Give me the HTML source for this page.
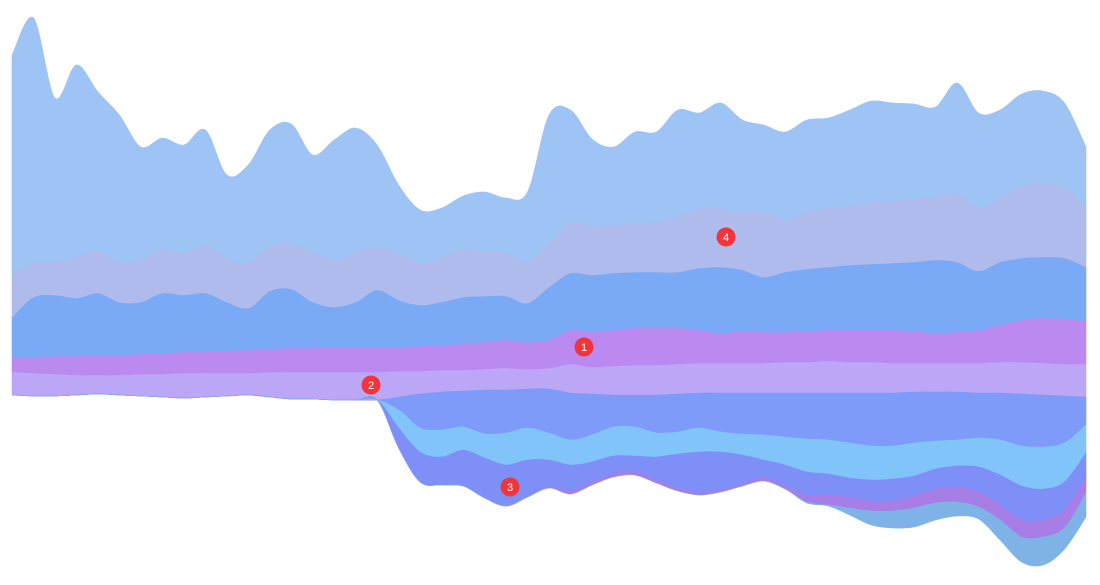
<!DOCTYPE html>
<html><head><meta charset="utf-8"><style>
html,body{margin:0;padding:0;background:#fff;}
svg{display:block;}
</style></head>
<body>
<svg id="chart" width="1100" height="585" viewBox="0 0 1100 585" xmlns="http://www.w3.org/2000/svg">
<g id="layers"></g>
<g id="badges"></g>
</svg>
<script>
// x categories (index of sample)
const categories = Array.from({length:51},(_, i) => i);
// baseline offset (center line shift)
const baseline = [0,-1,-1,0,1,0,-1,-2,-3,-2,-1,0,-2,-4,-4,-5,-5,-5,-2,1,3,4,5,5,6,6,2,1,0,0,0,1,2,2,2,2,2,2,2,2,2,2,3,3,3,2,2,1,0,-1,-2];
// upper series (stacked upward, bottom first)
const series2 = [23,23,22,20,19,20,22,23,25,24,23,22,25,27,27,28,28,28,26,23,22,21,21,22,20,21,29,27,29,30,30,30,30,30,30,30,31,31,32,31,31,30,29,29,29,30,31,32,32,32,33];
const series1 = [15,16,18,19,20,20,20,21,21,21,22,23,23,24,24,25,25,25,24,25,25,26,27,28,27,28,34,35,36,37,37,36,33,30,32,31,30,31,31,32,32,33,32,30,31,33,37,42,45,45,43];
const seriesC = [40,60,61,58,62,53,52,60,57,59,49,42,58,59,46,40,45,57,47,41,43,47,46,44,39,53,57,57,57,56,56,56,62,66,61,55,60,62,63,65,66,67,69,73,70,59,63,62,61,61,54];
const series4 = [42,34,33,41,42,40,42,44,42,47,44,45,45,46,50,47,50,43,47,42,44,48,45,43,41,45,50,50,48,49,50,55,60,59,58,65,52,57,59,59,62,62,63,63,69,63,65,71,74,70,60];
const seriesA = [220,245,164,192,159,147,113,111,108,116,83,98,116,119,97,120,124,102,68,53,50,53,59,55,70,127,113,86,78,91,90,107,95,105,92,87,88,92,90,96,101,98,95,90,110,95,87,93,92,85,60];
// lower series (stacked downward, top first)
const seriesF = [0,0,0,0,0,0,0,0,0,0,0,0,0,0,0,0,0,0,13,34,38,36,44,43,39,44,47,41,32,32,38,38,35,39,41,42,44,46,47,50,53,53,51,49,48,45,47,52,52,47,28];
const seriesG = [0,0,0,0,0,0,0,0,0,0,0,0,0,0,0,0,0,0,18,24,27,23,24,32,32,27,25,27,29,29,24,22,24,20,21,25,28,33,34,35,34,33,33,28,26,29,35,40,42,39,28];
const series3 = [0,0,0,0,0,0,0,0,0,0,0,0,0,0,0,0,0,0,20,30,28,36,40,41,37,27,26,20,18,16,23,34,41,38,29,18,21,24,21,20,21,22,20,20,21,25,30,34,31,28,24];
const seriesI = [0,0,0,0,0,0,0,0,0,0,0,0,0,0,0,0,0,0,0,0,0,0,0,0,0,1,3,3,3,3,3,3,2,2,2,3,3,6,10,10,10,10,12,14,15,15,15,17,17,18,16];
const seriesJ = [0,0,0,0,0,0,0,0,0,0,0,0,0,0,0,0,0,0,0,0,0,0,0,0,0,0,0,0,0,0,0,0,0,0,0,0,0,1,1,7,14,17,19,17,14,12,20,25,28,21,24];

const upperNames = ['series-2','series-1','series-c','series-4','series-a'];
const upperData = [series2, series1, seriesC, series4, seriesA];
const upperColors = ['#bca6f6','#bb8af0','#7aaaf6','#afbbec','#9ec3f5'];
const lowerNames = ['series-f','series-g','series-3','series-i','series-j'];
const lowerData = [seriesF, seriesG, series3, seriesI, seriesJ];
const lowerColors = ['#7f9bfa','#81c4f9','#7f8ff8','#a67ee6','#7fb3e7'];

const X0 = 12, X1 = 1086, Y0 = 395;
function xScale(i){ return X0 + (X1 - X0) * i / (categories.length - 1); }
function yScale(v){ return Y0 - v; }

function curve(pts){
  let d = '';
  for (let i = 0; i < pts.length - 1; i++) {
    const p0 = pts[i-1] || pts[i], p1 = pts[i], p2 = pts[i+1], p3 = pts[i+2] || p2;
    const t = 0.5 / 3 * 2;
    const c1x = p1[0] + (p2[0] - p0[0]) * t / 2, c1y = p1[1] + (p2[1] - p0[1]) * t / 2;
    const c2x = p2[0] - (p3[0] - p1[0]) * t / 2, c2y = p2[1] - (p3[1] - p1[1]) * t / 2;
    d += ' C' + c1x.toFixed(2) + ',' + c1y.toFixed(2) + ' ' + c2x.toFixed(2) + ',' + c2y.toFixed(2) + ' ' + p2[0].toFixed(2) + ',' + p2[1].toFixed(2);
  }
  return d;
}
const layersG = document.getElementById('layers');
function drawLayer(lo, hi, color, name){
  const top = categories.map((c,i) => [xScale(i), yScale(hi[i])]);
  const bot = categories.map((c,i) => [xScale(i), yScale(lo[i])]).reverse();
  const d = 'M' + top[0][0] + ',' + top[0][1] + curve(top) + ' L' + bot[0][0] + ',' + bot[0][1] + curve(bot) + ' Z';
  const p = document.createElementNS('http://www.w3.org/2000/svg','path');
  p.setAttribute('d', d);
  p.setAttribute('fill', color);
  p.setAttribute('stroke', color);
  p.setAttribute('stroke-width', '0.6');
  
  
  layersG.appendChild(p);
}
let cum = baseline.slice();
upperData.forEach((s, k) => {
  const next = cum.map((v,i) => v + s[i]);
  drawLayer(cum, next, upperColors[k], upperNames[k] + '-layer');
  cum = next;
});
cum = baseline.slice();
lowerData.forEach((s, k) => {
  const next = cum.map((v,i) => v - s[i]);
  drawLayer(next, cum, lowerColors[k], lowerNames[k] + '-layer');
  cum = next;
});

const badgeLabels = ['1','2','3','4'];
const badgeX = [584,371,510,726];
const badgeY = [347,385,487,237];
const bg = document.getElementById('badges');
badgeLabels.forEach((t, k) => {
  const g = document.createElementNS('http://www.w3.org/2000/svg','g');
  
  
  const c = document.createElementNS('http://www.w3.org/2000/svg','circle');
  c.setAttribute('cx', badgeX[k]); c.setAttribute('cy', badgeY[k]); c.setAttribute('r', 9.5);
  c.setAttribute('fill', '#f2353a');
  const tx = document.createElementNS('http://www.w3.org/2000/svg','text');
  tx.setAttribute('x', badgeX[k]); tx.setAttribute('y', badgeY[k] + 4);
  tx.setAttribute('text-anchor', 'middle');
  tx.setAttribute('font-family', 'Liberation Sans, sans-serif');
  tx.setAttribute('font-size', '11');
  tx.setAttribute('fill', '#fff');
  tx.textContent = t;
  g.appendChild(c); g.appendChild(tx);
  bg.appendChild(g);
});
</script>
</body></html>
